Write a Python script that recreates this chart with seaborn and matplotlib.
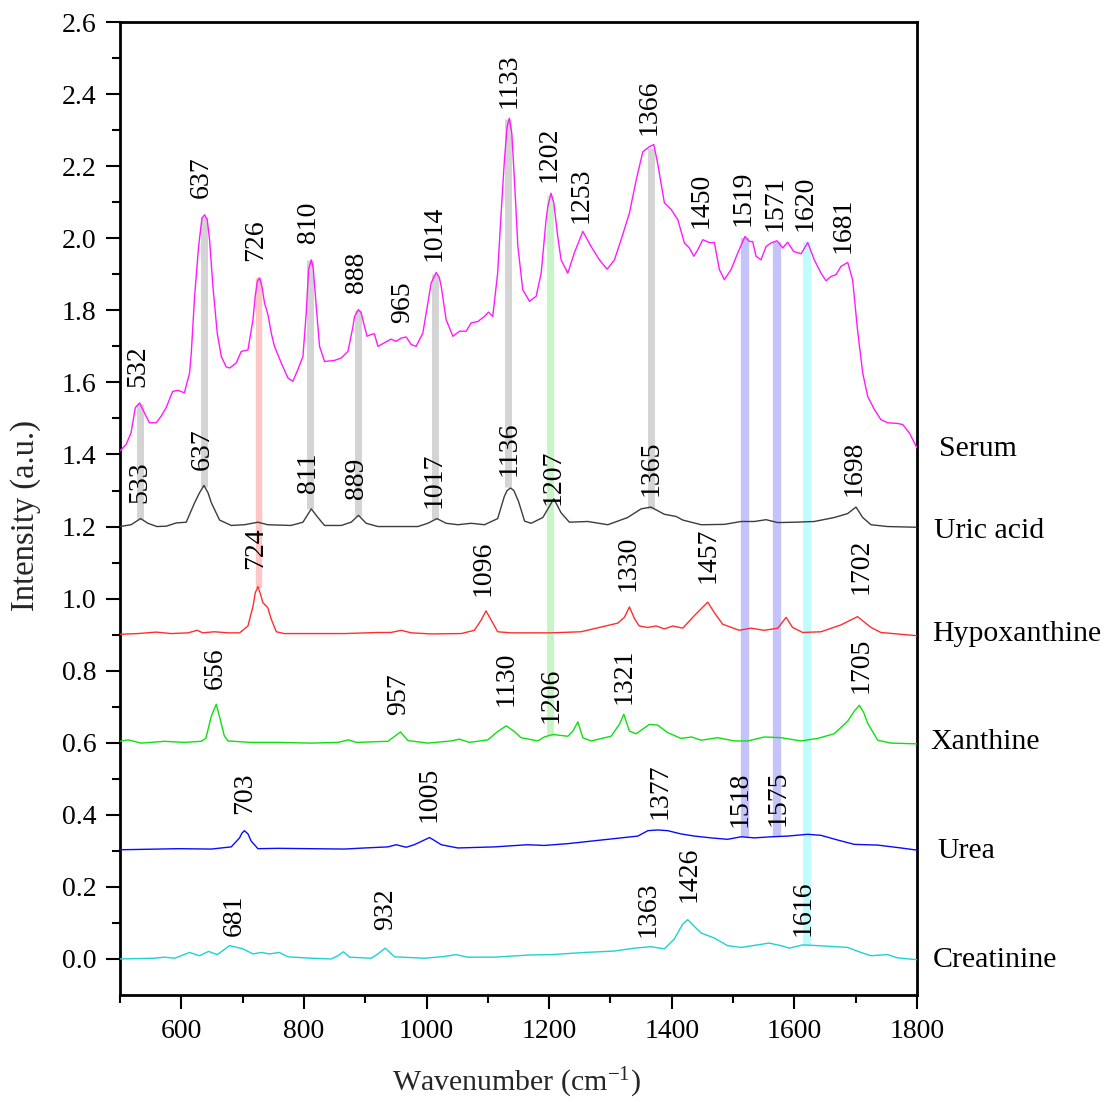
import matplotlib
matplotlib.use("Agg")
import matplotlib.pyplot as plt
import numpy as np
import pandas as pd
import seaborn as sns
from matplotlib.ticker import FixedLocator

# ---------------- spectra (wavenumber in cm-1, offset intensity in a.u.) ----------------
serum_x = [500, 510, 518, 525, 532, 540, 548, 559, 567, 575, 586, 594.5, 605, 613.5, 616.3, 621.7,
           628.2, 633.7, 638, 642.3, 646.1, 651.6, 658.6, 665.2, 673.3, 679, 689.6, 697.8, 708.7,
           716.9, 720.6, 723.9, 727.6, 731.5, 735.8, 741.3, 746.7, 752, 763, 774, 782, 790, 798.4,
           803.8, 807.6, 812, 815.2, 820.1, 825.5, 833.7, 850, 861, 871.8, 880, 882.6, 889, 893.4,
           896, 903, 909.8, 915, 920.7, 931.5, 942, 950.5, 958.7, 966.8, 975, 983, 994, 1005, 1007.6,
           1015.7, 1021, 1024, 1032, 1043, 1053.7, 1064.6, 1072.8, 1083.7, 1094.5, 1101, 1108, 1116,
           1121.7, 1127.1, 1131.5, 1135, 1139.1, 1143.4, 1149, 1157, 1168, 1178.8, 1187, 1195,
           1197.9, 1203, 1207.6, 1214, 1219.5, 1230.4, 1241, 1255, 1268.5, 1282, 1294.6, 1306.5,
           1317.4, 1331, 1342, 1352.8, 1363.5, 1370.7, 1377, 1388, 1399, 1410, 1420.6, 1428.7, 1436,
           1442.5, 1450.6, 1461.4, 1469.5, 1477.7, 1485.8, 1496.7, 1507.6, 1519.5, 1526.6, 1532,
           1537.5, 1545.6, 1553.8, 1562, 1571.7, 1581, 1589, 1599, 1611, 1621.8, 1632.5, 1643.5,
           1651.7, 1659.8, 1668, 1676, 1687, 1695, 1703, 1711.5, 1719.6, 1730.4, 1741, 1752, 1768.5,
           1776.7, 1787.5, 1800]
serum_y = [1.410, 1.428, 1.460, 1.530, 1.543, 1.515, 1.488, 1.488, 1.506, 1.529, 1.575, 1.578, 1.571,
           1.626, 1.682, 1.839, 1.977, 2.056, 2.065, 2.051, 1.996, 1.866, 1.737, 1.672, 1.643, 1.640,
           1.654, 1.686, 1.690, 1.774, 1.839, 1.880, 1.890, 1.866, 1.820, 1.788, 1.737, 1.700, 1.654,
           1.612, 1.603, 1.635, 1.672, 1.793, 1.913, 1.940, 1.917, 1.811, 1.700, 1.658, 1.661, 1.668,
           1.686, 1.755, 1.783, 1.802, 1.793, 1.774, 1.728, 1.733, 1.735, 1.700, 1.710, 1.720, 1.714,
           1.723, 1.726, 1.705, 1.700, 1.737, 1.848, 1.876, 1.905, 1.890, 1.866, 1.774, 1.728, 1.742,
           1.742, 1.765, 1.769, 1.783, 1.795, 1.783, 1.903, 2.070, 2.218, 2.310, 2.333, 2.291, 2.162,
           1.977, 1.857, 1.825, 1.839, 1.903, 2.051, 2.088, 2.125, 2.098, 2.005, 1.940, 1.903, 1.959,
           2.019, 1.977, 1.940, 1.914, 1.940, 1.996, 2.070, 2.162, 2.240, 2.254, 2.260, 2.208, 2.098,
           2.080, 2.051, 1.987, 1.973, 1.950, 1.968, 1.996, 1.988, 1.988, 1.913, 1.885, 1.913, 1.959,
           2.005, 1.991, 1.991, 1.950, 1.940, 1.977, 1.987, 1.993, 1.973, 1.989, 1.963, 1.957, 1.988,
           1.940, 1.903, 1.882, 1.894, 1.899, 1.922, 1.933, 1.885, 1.746, 1.626, 1.561, 1.525, 1.497,
           1.488, 1.486, 1.483, 1.460, 1.418]

uric_x = [500, 518, 533.6, 545.6, 560, 575.5, 591.8, 608, 621.7, 629.8, 637, 643.5, 649, 662.4,
          681.5, 703, 725, 741, 779, 798.4, 812, 822.9, 833.6, 861, 877, 889, 901.6, 920.7, 985.9,
          1002, 1017, 1032, 1051, 1072.8, 1094.5, 1116, 1127, 1131.5, 1137, 1142.4, 1150, 1160,
          1170.6, 1189.7, 1207.6, 1219.5, 1233, 1263, 1295.7, 1328, 1350, 1366, 1388, 1407, 1418,
          1448, 1485.8, 1513, 1534.8, 1553.8, 1573, 1600, 1632.5, 1665, 1687, 1700.5, 1711.5, 1725,
          1752, 1800]
uric_y = [1.200, 1.205, 1.222, 1.209, 1.200, 1.201, 1.210, 1.212, 1.266, 1.294, 1.314, 1.294, 1.266,
          1.218, 1.203, 1.205, 1.212, 1.205, 1.203, 1.212, 1.249, 1.225, 1.203, 1.203, 1.212, 1.231,
          1.209, 1.200, 1.200, 1.209, 1.222, 1.209, 1.205, 1.209, 1.205, 1.222, 1.284, 1.300, 1.307,
          1.300, 1.270, 1.215, 1.209, 1.225, 1.277, 1.238, 1.212, 1.214, 1.205, 1.225, 1.249, 1.254,
          1.234, 1.228, 1.218, 1.205, 1.206, 1.214, 1.214, 1.219, 1.211, 1.212, 1.214, 1.225, 1.236,
          1.254, 1.225, 1.205, 1.200, 1.198]

hypo_x = [500, 529, 559, 583.6, 611, 626, 635, 654, 676, 695, 708.7, 717, 720.6, 725, 729.3, 733,
          741, 746.7, 755, 768, 812, 866, 920.7, 942, 958.7, 975, 1007.6, 1056.5, 1078, 1089, 1097,
          1105.6, 1116, 1138, 1170.6, 1203, 1252, 1282, 1312, 1322.8, 1331, 1339, 1347, 1361, 1374.5,
          1388, 1401.7, 1418, 1437, 1458.7, 1469.5, 1483, 1510, 1529, 1551, 1573, 1586.5, 1597,
          1613.6, 1643.5, 1676, 1703, 1725, 1741, 1800]
hypo_y = [0.901, 0.903, 0.907, 0.903, 0.905, 0.912, 0.905, 0.908, 0.905, 0.905, 0.924, 0.979, 1.016,
          1.033, 1.012, 0.989, 0.975, 0.943, 0.908, 0.903, 0.903, 0.903, 0.906, 0.906, 0.912, 0.905,
          0.902, 0.903, 0.912, 0.940, 0.966, 0.940, 0.908, 0.905, 0.905, 0.905, 0.908, 0.920, 0.932,
          0.948, 0.977, 0.945, 0.924, 0.920, 0.924, 0.916, 0.924, 0.918, 0.953, 0.990, 0.961, 0.929,
          0.912, 0.918, 0.912, 0.918, 0.948, 0.920, 0.906, 0.908, 0.927, 0.950, 0.920, 0.906, 0.897]

xan_x = [500, 513, 534.7, 572.7, 605, 632.5, 640, 649, 657, 663, 670, 676, 714, 757.6, 812, 855.5,
         872.8, 885.3, 937, 957.5, 969.6, 1002, 1040, 1053.7, 1070, 1100, 1116, 1130, 1143.4, 1154,
         1181.6, 1192, 1206, 1230.5, 1238.6, 1246.8, 1255, 1268.5, 1301, 1314.6, 1321.8, 1331, 1342,
         1363.5, 1377, 1393.5, 1415, 1432.6, 1448, 1475, 1502, 1524, 1551, 1578, 1611, 1638, 1665,
         1687, 1697.8, 1706, 1713.1, 1719.6, 1736, 1757.6, 1800]
xan_y = [0.604, 0.608, 0.599, 0.604, 0.601, 0.604, 0.612, 0.674, 0.707, 0.668, 0.620, 0.605, 0.601,
         0.601, 0.599, 0.601, 0.608, 0.601, 0.604, 0.630, 0.606, 0.599, 0.605, 0.610, 0.601, 0.608,
         0.631, 0.647, 0.631, 0.614, 0.605, 0.616, 0.623, 0.618, 0.632, 0.658, 0.614, 0.605, 0.618,
         0.651, 0.679, 0.632, 0.625, 0.651, 0.649, 0.628, 0.612, 0.616, 0.607, 0.614, 0.605, 0.605,
         0.616, 0.614, 0.605, 0.612, 0.625, 0.660, 0.688, 0.704, 0.684, 0.654, 0.607, 0.599, 0.597]

urea_x = [500, 594.5, 649, 681.5, 695, 698.9, 703, 708.7, 714, 725, 757.6, 812, 866, 899, 937, 950.5,
          966.8, 980, 1005, 1024, 1051, 1110.8, 1165, 1192, 1230.5, 1274, 1312, 1344.6, 1361, 1377.4,
          1393.5, 1415, 1437, 1464, 1491, 1513, 1534.8, 1562, 1589, 1621.8, 1643.5, 1670.7, 1697.8,
          1736, 1774, 1800]
urea_y = [0.303, 0.306, 0.305, 0.311, 0.336, 0.349, 0.356, 0.347, 0.327, 0.306, 0.307, 0.306, 0.305,
          0.308, 0.311, 0.317, 0.310, 0.317, 0.337, 0.317, 0.308, 0.311, 0.317, 0.315, 0.320, 0.328,
          0.335, 0.341, 0.356, 0.358, 0.356, 0.347, 0.341, 0.336, 0.332, 0.339, 0.336, 0.339, 0.341,
          0.346, 0.343, 0.330, 0.318, 0.316, 0.308, 0.302]

crea_x = [500, 556, 572.7, 589, 613.5, 629.8, 644.5, 658.6, 678.7, 700.5, 717, 730.4, 744, 760, 774,
          812, 844.5, 855.5, 864.6, 874.4, 909.8, 920.7, 932.6, 947.7, 996.6, 1029, 1048, 1067,
          1110.8, 1168, 1203, 1257.5, 1306.5, 1339, 1366, 1388, 1404, 1418, 1426, 1437, 1448, 1469.5,
          1491, 1513, 1540, 1559, 1578, 1592, 1613.6, 1638, 1687, 1708.7, 1725, 1752, 1768.5, 1800]
crea_y = [0.000, 0.002, 0.005, 0.002, 0.018, 0.009, 0.021, 0.012, 0.037, 0.028, 0.014, 0.018, 0.014,
          0.018, 0.006, 0.002, 0.000, 0.009, 0.020, 0.005, 0.002, 0.014, 0.030, 0.006, 0.002, 0.007,
          0.012, 0.005, 0.005, 0.011, 0.012, 0.018, 0.022, 0.030, 0.034, 0.028, 0.055, 0.097, 0.109,
          0.090, 0.072, 0.058, 0.037, 0.032, 0.039, 0.044, 0.037, 0.030, 0.039, 0.037, 0.032, 0.018,
          0.009, 0.012, 0.003, -0.002]

samples = ["Serum", "Uric acid", "Hypoxanthine", "Xanthine", "Urea", "Creatinine"]

# ---------------- peak assignments ----------------
serum_peaks = [532, 637, 726, 810, 888, 965, 1014, 1133, 1202, 1253, 1366, 1450, 1519, 1571, 1620, 1681]
uric_peaks = [533, 637, 811, 889, 1017, 1136, 1207, 1365, 1698]
hypo_peaks = [724, 1096, 1330, 1457, 1702]
xan_peaks = [656, 957, 1130, 1206, 1321, 1705]
urea_peaks = [703, 1005, 1377, 1518, 1575]
crea_peaks = [681, 932, 1363, 1426, 1616]

# shared bands linking serum peaks to the reference compounds
band_centers = [532, 637, 726, 810, 888, 1014, 1133, 1202, 1366, 1519, 1571, 1620]
band_low = [1.22, 1.31, 1.03, 1.25, 1.23, 1.22, 1.31, 0.62, 1.25, 0.338, 0.338, 0.037]
band_high = [1.54, 2.06, 1.89, 1.94, 1.80, 1.90, 2.33, 2.12, 2.25, 2.00, 1.99, 1.99]

# ---------------- layout / style ----------------
line_colors = {"Serum": "#ff1aff", "Uric acid": "#3c3c3c", "Hypoxanthine": "#ff2e2e",
               "Xanthine": "#0ee00e", "Urea": "#0a0aff", "Creatinine": "#1ed2d2"}
band_colors = ["#d4d4d4", "#d4d4d4", "#ffc6c6", "#d4d4d4", "#d4d4d4", "#d4d4d4", "#d4d4d4",
               "#c6f6c6", "#d4d4d4", "#c4c4fb", "#c4c4fb", "#c0fcfc"]
band_widths = [5.0, 5.0, 4.6, 5.0, 5.0, 5.0, 5.0, 5.0, 5.0, 6.0, 6.0, 5.6]

# text anchors (x centre, y bottom) for the rotated peak labels
serum_lab_pos = [(529, 1.586), (632.5, 2.112), (722, 1.936), (807.6, 1.987), (885.3, 1.848),
                 (961.4, 1.765), (1012, 1.936), (1135, 2.361), (1200.5, 2.157), (1252, 2.042),
                 (1363.5, 2.287), (1448, 2.028), (1515.8, 2.033), (1568.5, 2.019), (1617.4, 2.019),
                 (1678.8, 1.959)]
uric_lab_pos = [(532, 1.266), (633.7, 1.358), (807.6, 1.294), (885.3, 1.277), (1013, 1.252),
                (1135, 1.340), (1206.6, 1.261), (1366, 1.284), (1698, 1.284)]
hypo_lab_pos = [(722, 1.081), (1092, 1.007), (1328, 1.021), (1460, 1.044), (1708.7, 1.012)]
xan_lab_pos = [(655, 0.748), (954, 0.676), (1130, 0.702), (1203, 0.656), (1321.8, 0.707),
               (1708.7, 0.739)]
urea_lab_pos = [(703, 0.402), (1005, 0.379), (1381.5, 0.388), (1512, 0.365), (1573, 0.370)]
crea_lab_pos = [(687, 0.065), (934, 0.079), (1361, 0.060), (1428.7, 0.157), (1613.6, 0.065)]

# names written to the right of the frame: (x, baseline y)
name_pos = [(1836.5, 1.395), (1828, 1.169), (1825.5, 0.882), (1821.7, 0.584), (1833.8, 0.279),
            (1825.6, -0.023)]

sns.set_style("ticks")
plt.rcParams["font.family"] = ["Liberation Serif", "DejaVu Serif"]
plt.rcParams["mathtext.fontset"] = "custom"
plt.rcParams["mathtext.rm"] = "Liberation Serif"
plt.rcParams["mathtext.it"] = "Liberation Serif:italic"
plt.rcParams["mathtext.bf"] = "Liberation Serif:bold"

frames = []
for name, xs, ys in zip(samples,
                        [serum_x, uric_x, hypo_x, xan_x, urea_x, crea_x],
                        [serum_y, uric_y, hypo_y, xan_y, urea_y, crea_y]):
    frames.append(pd.DataFrame({"Wavenumber": xs, "Intensity": ys, "Sample": name}))
spectra = pd.concat(frames, ignore_index=True)

fig = plt.figure(figsize=(11.08, 11.02), dpi=100)
ax = fig.add_axes([0.1083, 0.0971, 0.7193, 0.8829])

# highlight bands behind the spectra
for xc, lo, hi, col, w in zip(band_centers, band_low, band_high, band_colors, band_widths):
    ax.vlines(xc, lo, hi, colors=col, linewidth=w, zorder=1, capstyle="butt")

sns.lineplot(data=spectra, x="Wavenumber", y="Intensity", hue="Sample", hue_order=samples,
             palette=line_colors, estimator=None, sort=True, legend=False, linewidth=1.0,
             ax=ax, zorder=3)

label_size = 20
for peaks, positions in [(serum_peaks, serum_lab_pos), (uric_peaks, uric_lab_pos),
                         (hypo_peaks, hypo_lab_pos), (xan_peaks, xan_lab_pos),
                         (urea_peaks, urea_lab_pos), (crea_peaks, crea_lab_pos)]:
    for value, (tx, ty) in zip(peaks, positions):
        ax.text(tx, ty, str(value), rotation=90, ha="center", va="bottom",
                fontsize=label_size, color="black", zorder=4)

for name, (tx, ty) in zip(samples, name_pos):
    ax.text(tx, ty, name, ha="left", va="baseline", fontsize=21.5, color="black", clip_on=False)

ax.set_xlim(500, 1800)
ax.set_ylim(-0.1, 2.6)

ax.xaxis.set_major_locator(FixedLocator([600, 800, 1000, 1200, 1400, 1600, 1800]))
ax.xaxis.set_minor_locator(FixedLocator([500, 700, 900, 1100, 1300, 1500, 1700]))
y_major = [round(0.2 * i, 1) for i in range(14)]
ax.yaxis.set_major_locator(FixedLocator(y_major))
ax.yaxis.set_minor_locator(FixedLocator([round(0.1 + 0.2 * i, 1) for i in range(13)]))
ax.set_yticklabels([f"{v:.1f}" for v in y_major])
ax.set_xticklabels(["600", "800", "1000", "1200", "1400", "1600", "1800"])

ax.tick_params(axis="both", which="major", direction="out", length=10, width=1.5,
               labelsize=20, pad=7, color="black", labelcolor="black")
ax.tick_params(axis="both", which="minor", direction="out", length=5.8, width=1.5, color="black")

for side in ["left", "right", "top", "bottom"]:
    ax.spines[side].set_visible(True)
    ax.spines[side].set_linewidth(2.0)
    ax.spines[side].set_color("black")

ax.set_xlabel("Wavenumber (cm$^{-1}$)", fontsize=21.5)
ax.set_ylabel("Intensity (a.u.)", fontsize=23.5)
ax.xaxis.set_label_coords(0.4975, -0.073)
ax.yaxis.set_label_coords(-0.099, 0.493)

fig.savefig("out.png", dpi=100, facecolor="white")
